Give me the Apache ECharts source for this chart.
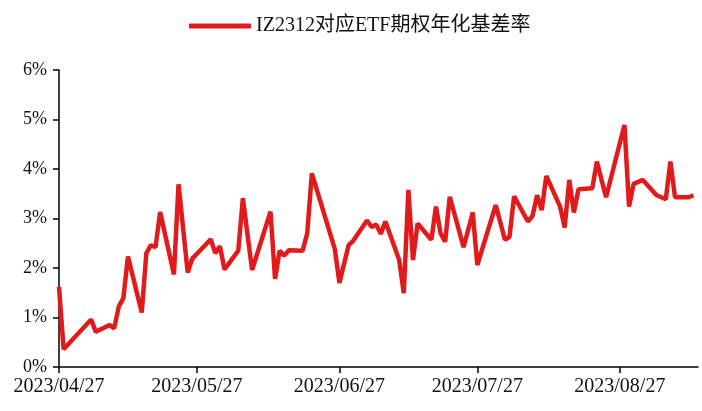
<!DOCTYPE html>
<html>
<head>
<meta charset="utf-8">
<script src="https://cdn.jsdelivr.net/npm/echarts@6/dist/echarts.min.js"></script>
<style>
html,body{margin:0;padding:0;background:#fff;}
#chart{width:702px;height:411px;}
</style>
</head>
<body>
<div id="chart"></div>
<script>
var seriesName = 'IZ2312对应ETF期权年化基差率';
var dates = [
 '2023/04/27','2023/04/28','2023/05/04','2023/05/05','2023/05/08','2023/05/09','2023/05/10','2023/05/11','2023/05/12',
 '2023/05/15','2023/05/16','2023/05/17','2023/05/18','2023/05/19','2023/05/22','2023/05/23','2023/05/25','2023/05/26',
 '2023/05/29','2023/05/30','2023/05/31','2023/06/01','2023/06/02','2023/06/05','2023/06/06','2023/06/08','2023/06/12',
 '2023/06/13','2023/06/14','2023/06/15','2023/06/16','2023/06/19','2023/06/20','2023/06/21','2023/06/26','2023/06/27',
 '2023/06/29','2023/06/30','2023/07/03','2023/07/04','2023/07/05','2023/07/06','2023/07/07','2023/07/10','2023/07/11',
 '2023/07/12','2023/07/13','2023/07/14','2023/07/17','2023/07/18','2023/07/19','2023/07/20','2023/07/21','2023/07/24',
 '2023/07/26','2023/07/27','2023/07/31','2023/08/02','2023/08/03','2023/08/04','2023/08/07','2023/08/08','2023/08/09',
 '2023/08/10','2023/08/11','2023/08/14','2023/08/15','2023/08/16','2023/08/17','2023/08/18','2023/08/21','2023/08/22',
 '2023/08/24','2023/08/28','2023/08/29','2023/08/30','2023/09/01','2023/09/04','2023/09/06','2023/09/07','2023/09/08',
 '2023/09/11','2023/09/12'
];
var values = [
 1.62,0.36,0.96,0.71,0.85,0.78,1.22,1.39,2.23,
 1.10,2.30,2.46,2.42,3.13,1.87,3.69,1.91,2.19,
 2.48,2.58,2.30,2.44,1.97,2.35,3.41,1.96,3.14,
 1.78,2.35,2.25,2.36,2.35,2.70,3.91,2.38,1.70,
 2.46,2.55,2.96,2.83,2.88,2.69,2.94,2.16,1.49,
 3.58,2.16,2.90,2.57,3.24,2.70,2.53,3.44,2.42,
 3.12,2.06,3.27,2.57,2.63,3.45,2.94,3.05,3.47,
 3.17,3.86,3.24,2.82,3.78,3.12,3.59,3.61,4.15,
 3.43,4.89,3.24,3.70,3.78,3.47,3.39,4.15,3.43,
 3.43,3.47
];
var tickLabels = ['2023/04/27','2023/05/27','2023/06/27','2023/07/27','2023/08/27'];
var xMin = '2023/04/27';
var xMax = '2023/09/13';

var DAY = 86400000;
function toDay(s){ var p = s.split('/'); return Math.round(Date.UTC(+p[0], +p[1]-1, +p[2]) / DAY); }
function pad(n){ return (n<10?'0':'')+n; }
function fmt(day){ var d = new Date(Math.round(day) * DAY); return d.getUTCFullYear()+'/'+pad(d.getUTCMonth()+1)+'/'+pad(d.getUTCDate()); }

var data = dates.map(function(d,i){ return [toDay(d), values[i]]; });
var tickDays = tickLabels.map(toDay);

var chart = echarts.init(document.getElementById('chart'), null, {renderer:'canvas'});
var serif = '"Liberation Serif", "Noto Sans CJK SC", serif';
chart.setOption({
  animation: false,
  backgroundColor: '#ffffff',
  legend: {
    show: true,
    left: 184, top: 11,
    icon: 'rect',
    itemWidth: 62, itemHeight: 5,
    itemGap: 7,
    textStyle: { fontFamily: serif, fontSize: 20, color: '#111' },
    data: [seriesName]
  },
  grid: { left: 59, right: 4, top: 70, bottom: 44, outerBoundsMode: 'none' },
  xAxis: {
    type: 'value',
    min: toDay(xMin), max: toDay(xMax),
    axisLine: { show: true, lineStyle: { color: '#000', width: 1.5 } },
    axisTick: { show: true, length: 6, customValues: tickDays, lineStyle: { color: '#000', width: 1.5 } },
    axisLabel: {
      customValues: tickDays,
      formatter: function(v){ return fmt(v); },
      fontFamily: serif, fontSize: 20, color: '#111', margin: 10
    },
    splitLine: { show: false }
  },
  yAxis: {
    type: 'value',
    min: 0, max: 6, interval: 1,
    axisLine: { show: true, lineStyle: { color: '#000', width: 1.5 } },
    axisTick: { show: true, length: 6, lineStyle: { color: '#000', width: 1.5 } },
    axisLabel: { formatter: '{value}%', fontFamily: serif, fontSize: 18, color: '#111', margin: 12 },
    splitLine: { show: false }
  },
  series: [{
    name: seriesName,
    type: 'line',
    data: data,
    showSymbol: false,
    symbol: 'none',
    lineStyle: { color: '#E31A1C', width: 4.5 },
    itemStyle: { color: '#E31A1C' }
  }]
});
</script>
</body>
</html>
